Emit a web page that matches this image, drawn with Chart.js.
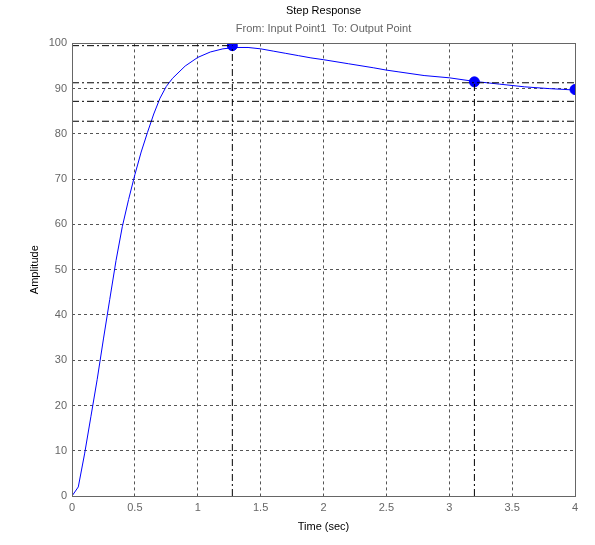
<!DOCTYPE html>
<html>
<head>
<meta charset="utf-8">
<script src="https://cdn.jsdelivr.net/npm/chart.js@4.4.1/dist/chart.umd.min.js"></script>
<style>
  html, body { margin: 0; padding: 0; background: #fff; }
  #wrap { width: 595px; height: 545px; }
</style>
</head>
<body>
<div id="wrap"><canvas id="stepChart"></canvas></div>
<script>
// step response samples
const timeValues = [0, 0.05, 0.1, 0.15, 0.2, 0.25, 0.3, 0.35, 0.4, 0.45, 0.5, 0.55, 0.6, 0.65, 0.7, 0.75, 0.8, 0.9, 1.0, 1.1, 1.2, 1.3, 1.4, 1.5, 1.6, 1.7, 1.8, 1.9, 2.0, 2.2, 2.4, 2.5, 2.6, 2.8, 3.0, 3.2, 3.4, 3.6, 3.8, 4.0];
const amplitudeValues = [0, 2, 9.3, 17.5, 25.7, 34.7, 43.4, 52, 59.5, 65.5, 71, 76, 80.3, 84.4, 87.9, 90.5, 92.3, 95, 96.9, 98.1, 98.8, 99.1, 99.1, 98.8, 98.3, 97.8, 97.3, 96.8, 96.4, 95.5, 94.6, 94.1, 93.7, 92.9, 92.4, 91.6, 91.0, 90.4, 90.0, 89.7];

// characteristic markers: peak, settling, final value
const markerTimes = [1.275, 3.2, 4.0];
const markerValues = [99.5, 91.5, 89.8];

// dash-dot reference levels
const fullLevels = [91.3, 87.2, 82.8];
const peakLevel = 99.5;

const xTicks = [0, 0.5, 1, 1.5, 2, 2.5, 3, 3.5, 4];
const yTicks = [0, 10, 20, 30, 40, 50, 60, 70, 80, 90, 100];

const dashDot = [7, 3, 2, 3];

function refLine(points) {
    return {
        data: points,
        showLine: true,
        borderColor: '#000',
        borderWidth: 1,
        borderDash: dashDot,
        pointRadius: 0,
        fill: false
    };
}

const datasets = [];
fullLevels.forEach(level => {
    datasets.push(refLine([{ x: 0, y: level }, { x: 4, y: level }]));
});
datasets.push(refLine([{ x: 0, y: peakLevel }, { x: markerTimes[0], y: peakLevel }]));
datasets.push(refLine([{ x: markerTimes[0], y: 0 }, { x: markerTimes[0], y: markerValues[0] }]));
datasets.push(refLine([{ x: markerTimes[1], y: 0 }, { x: markerTimes[1], y: markerValues[1] }]));

datasets.push({
    data: timeValues.map((t, i) => ({ x: t, y: amplitudeValues[i] })),
    showLine: true,
    borderColor: '#0000ff',
    borderWidth: 1,
    pointRadius: 0,
    tension: 0,
    fill: false
});

datasets.push({
    data: markerTimes.map((t, i) => ({ x: t, y: markerValues[i] })),
    showLine: false,
    backgroundColor: '#0000ff',
    borderColor: '#0000ff',
    pointRadius: 5,
    pointHoverRadius: 5
});

// box around the plot area
const frameBox = {
    id: 'frameBox',
    afterDatasetsDraw(chart) {
        const { ctx, chartArea } = chart;
        ctx.save();
        ctx.strokeStyle = '#666';
        ctx.lineWidth = 1;
        ctx.strokeRect(Math.round(chartArea.left) + 0.5, Math.round(chartArea.top) + 0.5,
            Math.round(chartArea.width), Math.round(chartArea.height));
        ctx.restore();
    }
};

const tickFont = { family: 'Liberation Sans, Arial, sans-serif', size: 11 };

new Chart(document.getElementById('stepChart'), {
    type: 'scatter',
    data: { datasets: datasets },
    plugins: [frameBox],
    options: {
        responsive: true,
        maintainAspectRatio: false,
        animation: false,
        events: [],
        layout: { padding: { left: 24, right: 20, top: 0, bottom: 7 } },
        plugins: {
            legend: { display: false },
            tooltip: { enabled: false },
            title: {
                display: true,
                text: 'Step Response',
                color: '#000',
                fullSize: false,
                font: { family: 'Liberation Sans, Arial, sans-serif', size: 11, weight: 'normal' },
                padding: { top: 4, bottom: 5 }
            },
            subtitle: {
                display: true,
                text: 'From: Input Point1  To: Output Point',
                color: '#666',
                fullSize: false,
                font: { family: 'Liberation Sans, Arial, sans-serif', size: 11 },
                padding: { top: 0, bottom: 8 }
            }
        },
        scales: {
            x: {
                type: 'linear',
                min: 0,
                max: 4,
                afterBuildTicks: scale => { scale.ticks = xTicks.map(v => ({ value: v })); },
                afterFit: scale => { scale.height = 42; },
                ticks: { color: '#666', font: tickFont, padding: 5, maxRotation: 0, callback: v => String(v) },
                grid: { color: '#555', drawTicks: false, lineWidth: 1 },
                border: { display: false, dash: [3, 3] },
                title: { display: true, text: 'Time (sec)', color: '#000', font: tickFont, padding: { top: 0 } }
            },
            y: {
                type: 'linear',
                min: 0,
                max: 100,
                afterBuildTicks: scale => { scale.ticks = yTicks.map(v => ({ value: v })); },
                afterFit: scale => { scale.width = 48; },
                ticks: { color: '#666', font: tickFont, padding: 5 },
                grid: { color: '#555', drawTicks: false, lineWidth: 1 },
                border: { display: false, dash: [3, 3] },
                title: { display: true, text: 'Amplitude', color: '#000', font: tickFont }
            }
        }
    }
});
</script>
</body>
</html>
